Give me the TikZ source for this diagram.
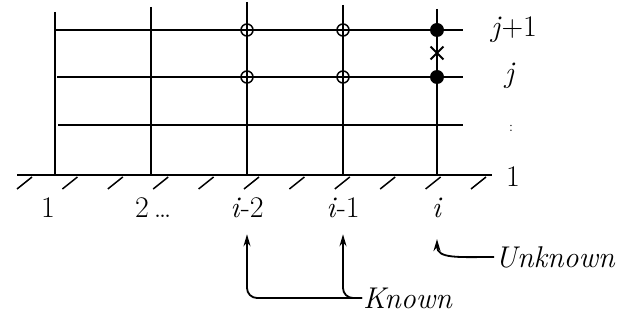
\documentclass[tikz,border=0pt]{standalone}
\usetikzlibrary{arrows.meta, shapes.misc}
\tikzset{
  gridline/.style={line width=1.8pt, black},
  groundline/.style={line width=2.6pt, black},
  hatchline/.style={line width=1.5pt, black},
  knownpt/.style={circle, draw, line width=1.5pt, minimum size=12pt, inner sep=0pt},
  unknownpt/.style={circle, fill, minimum size=14pt, inner sep=0pt},
  midpt/.style={cross out, draw, line width=1.8pt, minimum size=11pt, inner sep=0pt},
  idxlabel/.style={font=\fontsize{30}{30}\selectfont, inner sep=1pt},
  notelabel/.style={font=\fontsize{30}{30}\selectfont\itshape, inner sep=1pt},
  notearrow/.style={-{Stealth[length=12pt,width=7pt]}, line width=1.8pt, rounded corners=10pt}
}

\begin{document}
\begin{tikzpicture}[x=1pt, y=-1pt]
  \useasboundingbox (0,0) rectangle (625,323);

  % grid lines and ground
  \foreach \x/\top in {55/12, 151/7, 247/2, 343/5, 437/9}
    \draw[gridline] (\x,\top) -- (\x,175);
  \foreach \y/\l in {30/55, 77/57, 125/58}
    \draw[gridline] (\l,\y) -- (463,\y);
  \draw[groundline] (17,175) -- (492,175);
  \foreach \k in {0,...,10}
    \draw[hatchline] ({32+45.4*\k},177) -- ++(-15,12);

  % grid points
  \node[knownpt] (km2top) at (247,30) {};
  \node[knownpt] (km2mid) at (247,77) {};
  \node[knownpt] (km1top) at (343,30) {};
  \node[knownpt] (km1mid) at (343,77) {};
  \node[unknownpt] (utop) at (437,30) {};
  \node[unknownpt] (umid) at (437,77) {};
  \node[midpt] (uhalf) at (437,53) {};

  % row labels
  \node[idxlabel] (jp1) at (514,30) {\textit{j}+1};
  \node[idxlabel] (jj) at (510,76) {\textit{j}};
  \node[idxlabel, font=\Large] (jdots) at (511,128) {:};
  \node[idxlabel] (jone) at (513,177) {1};

  % column labels
  \node[idxlabel] (ione) at (48,208) {1};
  \node[idxlabel, anchor=west] (itwo) at (134,208) {2\,\ldots};
  \node[idxlabel] (im2) at (247,208) {\textit{i}-2};
  \node[idxlabel] (im1) at (343,208) {\textit{i}-1};
  \node[idxlabel] (ii) at (437,208) {\textit{i}};

  % notes
  \node[notelabel, anchor=west] (known) at (362,298) {Known};
  \node[notelabel, anchor=west] (unknown) at (494,257) {Unknown};

  \draw[notearrow, shorten >=15pt] (known.west) -| (im2.south);
  \draw[notearrow, shorten >=15pt] (known.west) -| (im1.south);
  \draw[notearrow, shorten >=20pt] (unknown.west) .. controls +(-35,0) and +(0,40) .. (ii.south);
\end{tikzpicture}
\end{document}
